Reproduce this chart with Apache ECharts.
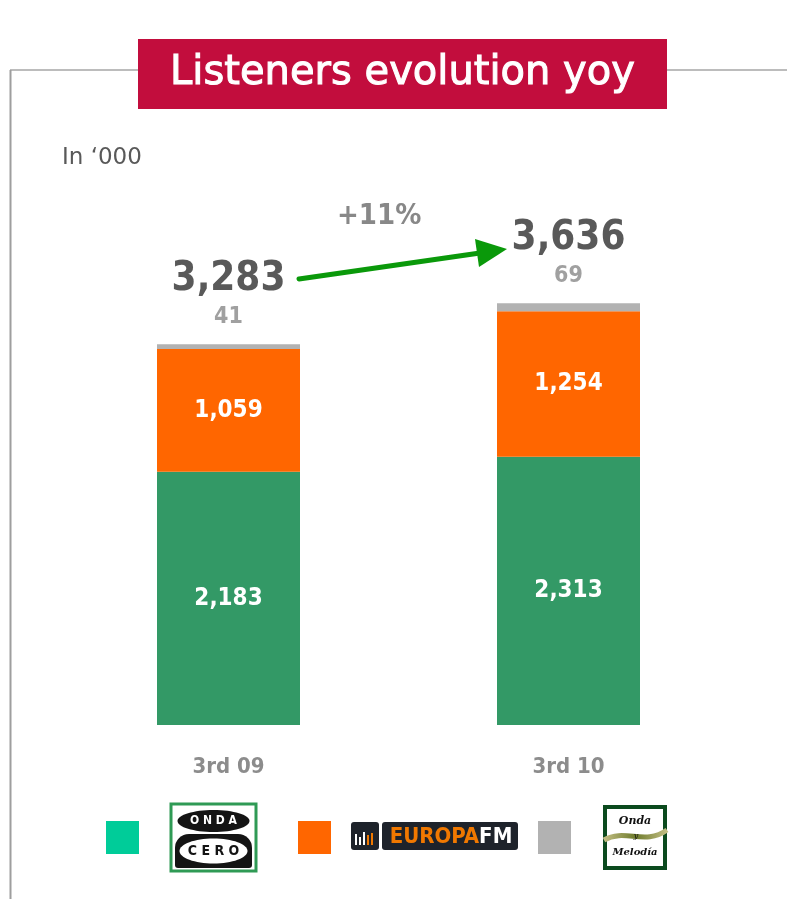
<!DOCTYPE html>
<html>
<head>
<meta charset="utf-8">
<script src="https://cdn.jsdelivr.net/npm/echarts@6/dist/echarts.min.js"></script>
<style>
  html, body { margin: 0; padding: 0; background: #fff; }
  #chart { width: 787px; height: 899px; }
</style>
</head>
<body>
<div id="chart"></div>
<script>
// Quarterly audience, thousands of listeners
const periods = ['3rd 09', '3rd 10'];
const ondaCero = [2183, 2313];
const europaFM = [1059, 1254];
const ondaMelodia = [41, 69];

const stations = ['Onda Cero', 'Europa FM', 'Onda Melodía'];
const barColors = ['#339966', '#FF6600', '#B2B2B2'];
const legendColors = ['#00CC99', '#FF6600', '#B2B2B2'];

const totals = periods.map((_, i) => ondaCero[i] + europaFM[i] + ondaMelodia[i]);
const growth = Math.round((totals[1] / totals[0] - 1) * 100);

const fmt = v => v.toLocaleString('en-US');
const NUM_FONT = '"DejaVu Sans Condensed", "DejaVu Sans", sans-serif';
const TEXT_FONT = '"DejaVu Sans", sans-serif';

const chart = echarts.init(document.getElementById('chart'));

const insideLabel = {
  show: true,
  position: 'inside',
  color: '#fff',
  fontFamily: NUM_FONT,
  fontWeight: 'bold',
  fontSize: 24,
  formatter: p => fmt(p.value)
};

function legendAt(idx, left) {
  return {
    left: left,
    top: 821,
    padding: 0,
    icon: 'rect',
    itemWidth: 33,
    itemHeight: 33,
    formatter: () => '',
    data: [{ name: stations[idx], itemStyle: { color: legendColors[idx] } }]
  };
}

const option = {
  backgroundColor: '#fff',
  animation: false,
  title: [
    {
      text: '{t|Listeners evolution yoy}',
      left: 138,
      top: 39,
      padding: 0,
      backgroundColor: '#C20D3D',
      textStyle: {
        rich: {
          t: {
            width: 529,
            height: 70,
            lineHeight: 70,
            align: 'center',
            color: '#fff',
            fontSize: 40,
            fontWeight: 'normal',
            fontFamily: TEXT_FONT,
            textBorderColor: '#fff',
            textBorderWidth: 1
          }
        }
      }
    },
    {
      text: 'In \u2018000',
      left: 62,
      top: 147,
      padding: 0,
      textStyle: {
        color: '#595959',
        fontSize: 23,
        fontWeight: 'normal',
        fontFamily: TEXT_FONT
      }
    }
  ],
  legend: [legendAt(0, 106), legendAt(1, 298), legendAt(2, 538)],
  grid: { left: 58.5, right: 48.5, top: 261, bottom: 174 },
  xAxis: {
    type: 'category',
    data: periods,
    axisLine: { show: false },
    axisTick: { show: false },
    axisLabel: {
      margin: 31,
      color: '#8C8C8C',
      fontSize: 22,
      fontWeight: 'bold',
      fontFamily: NUM_FONT
    }
  },
  yAxis: {
    type: 'value',
    min: 0,
    max: 4000,
    show: false,
    splitLine: { show: false }
  },
  series: [
    {
      name: stations[0],
      type: 'bar',
      stack: 'audience',
      barWidth: 143,
      data: ondaCero,
      itemStyle: { color: barColors[0] },
      label: insideLabel
    },
    {
      name: stations[1],
      type: 'bar',
      stack: 'audience',
      barWidth: 143,
      data: europaFM,
      itemStyle: { color: barColors[1] },
      label: insideLabel
    },
    {
      name: stations[2],
      type: 'bar',
      stack: 'audience',
      barWidth: 143,
      data: ondaMelodia,
      itemStyle: { color: barColors[2] },
      label: {
        show: true,
        position: 'top',
        distance: 14,
        formatter: p => '{tot|' + fmt(totals[p.dataIndex]) + '}\n{val|' + fmt(p.value) + '}',
        rich: {
          tot: {
            color: '#595959',
            fontSize: 40,
            fontWeight: 'bold',
            fontFamily: NUM_FONT,
            lineHeight: 50,
            align: 'center'
          },
          val: {
            color: '#A0A0A0',
            fontSize: 23,
            fontWeight: 'bold',
            fontFamily: NUM_FONT,
            lineHeight: 26,
            align: 'center'
          }
        }
      }
    }
  ],
  graphic: [
    // frame lines
    { type: 'line', z: -1, shape: { x1: 10, y1: 70, x2: 787, y2: 70 }, style: { stroke: '#A6A6A6', lineWidth: 1.5 } },
    { type: 'line', z: -1, shape: { x1: 10.5, y1: 70, x2: 10.5, y2: 899 }, style: { stroke: '#9E9E9E', lineWidth: 2 } },
    // growth annotation
    {
      type: 'text',
      left: 337,
      top: 202,
      style: { text: '+' + growth + '%', fill: '#888888', fontSize: 29, fontWeight: 'bold', fontFamily: NUM_FONT }
    },
    { type: 'line', shape: { x1: 299, y1: 279, x2: 480, y2: 253 }, style: { stroke: '#0A990A', lineWidth: 5, lineCap: 'round' } },
    { type: 'polygon', shape: { points: [[507, 249], [479, 267], [475, 239]] }, style: { fill: '#0A990A' } },

    // Onda Cero logo
    { type: 'rect', shape: { x: 171, y: 804, width: 85, height: 67 }, style: { fill: '#fff', stroke: '#2F9A55', lineWidth: 3 } },
    { type: 'ellipse', shape: { cx: 213.5, cy: 821, rx: 36, ry: 11 }, style: { fill: '#141414' } },
    { type: 'text', style: { x: 213.5, y: 821, text: 'O N D A', align: 'center', verticalAlign: 'middle', fill: '#fff', fontSize: 12, fontWeight: 'bold', fontFamily: NUM_FONT } },
    { type: 'rect', shape: { x: 175, y: 834, width: 77, height: 34, r: [14, 14, 3, 3] }, style: { fill: '#141414' } },
    { type: 'ellipse', shape: { cx: 213.5, cy: 851, rx: 34, ry: 12.5 }, style: { fill: '#fff' } },
    { type: 'text', style: { x: 213.5, y: 851, text: 'C E R O', align: 'center', verticalAlign: 'middle', fill: '#141414', fontSize: 14, fontWeight: 'bold', fontFamily: NUM_FONT } },

    // Europa FM logo
    { type: 'rect', shape: { x: 351, y: 822, width: 28, height: 28, r: 3 }, style: { fill: '#1E232B' } },
    { type: 'rect', shape: { x: 355, y: 834, width: 2, height: 11 }, style: { fill: '#fff' } },
    { type: 'rect', shape: { x: 359, y: 837, width: 2, height: 8 }, style: { fill: '#fff' } },
    { type: 'rect', shape: { x: 363, y: 832, width: 2, height: 13 }, style: { fill: '#fff' } },
    { type: 'rect', shape: { x: 367, y: 835, width: 2, height: 10 }, style: { fill: '#F07800' } },
    { type: 'rect', shape: { x: 371, y: 833, width: 2, height: 12 }, style: { fill: '#F07800' } },
    { type: 'rect', shape: { x: 382, y: 822, width: 136, height: 28, r: 3 }, style: { fill: '#1E232B' } },
    {
      type: 'text',
      style: {
        x: 451, y: 837, align: 'center', verticalAlign: 'middle',
        text: '{e|EUROPA}{f|FM}',
        rich: {
          e: { fill: '#F07800', fontSize: 22, fontWeight: 'bold', fontFamily: NUM_FONT },
          f: { fill: '#fff', fontSize: 22, fontWeight: 'bold', fontFamily: NUM_FONT }
        }
      }
    },

    // Onda Melodía logo
    { type: 'rect', shape: { x: 603, y: 805, width: 64, height: 65 }, style: { fill: '#0B4A1E' } },
    { type: 'rect', shape: { x: 607, y: 809, width: 56, height: 57 }, style: { fill: '#fff' } },
    {
      type: 'bezierCurve',
      shape: { x1: 604, y1: 840, cpx1: 625, cpy1: 828, cpx2: 645, cpy2: 846, x2: 667, y2: 830 },
      style: {
        stroke: new echarts.graphic.LinearGradient(0, 0, 1, 0, [
          { offset: 0, color: '#C9C38A' }, { offset: 0.5, color: '#6E7B2C' }, { offset: 1, color: '#C9C38A' }
        ]),
        lineWidth: 5, fill: 'none'
      }
    },
    { type: 'text', style: { x: 635, y: 821, text: 'Onda', align: 'center', verticalAlign: 'middle', fill: '#111', fontSize: 11, fontStyle: 'italic', fontWeight: 'bold', fontFamily: '"DejaVu Serif", serif' } },
    { type: 'text', style: { x: 636, y: 836, text: 'y', align: 'center', verticalAlign: 'middle', fill: '#111', fontSize: 8, fontStyle: 'italic', fontFamily: '"DejaVu Serif", serif' } },
    { type: 'text', style: { x: 635, y: 852, text: 'Melodía', align: 'center', verticalAlign: 'middle', fill: '#111', fontSize: 10, fontStyle: 'italic', fontWeight: 'bold', fontFamily: '"DejaVu Serif", serif' } }
  ]
};

chart.setOption(option);
</script>
</body>
</html>
